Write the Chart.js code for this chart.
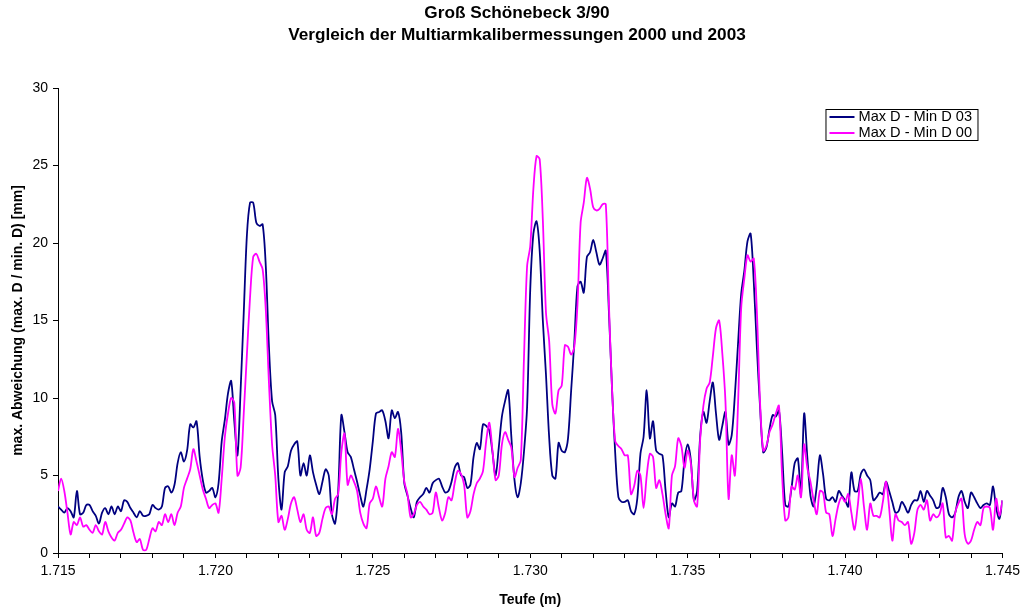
<!DOCTYPE html>
<html>
<head>
<meta charset="utf-8">
<title>Groß Schönebeck 3/90</title>
<script src="https://cdn.jsdelivr.net/npm/chart.js@4.4.0/dist/chart.umd.min.js"></script>
<style>
  html, body { margin: 0; padding: 0; background: #fff; }
  #wrap { width: 1025px; height: 607px; }
</style>
</head>
<body>
<div id="wrap"><canvas id="kaliber_chart" width="1025" height="607"></canvas></div>
<script>
// depth axis (m), one sample every 0.1 mm
const depthStart = 1.715;
const depthStep = 0.0001;
const depthTicks = [1.715, 1.72, 1.725, 1.73, 1.735, 1.74, 1.745];

const titleLines = ["Groß Schönebeck 3/90", "Vergleich der Multiarmkalibermessungen 2000 und 2003"];
const seriesLabels = ["Max D - Min D 03", "Max D - Min D 00"];

// max D - min D, measurement 2003 [mm]
const maxMin03 = [
  3.0, 2.8, 2.6, 2.9, 2.7, 2.3, 4.0, 2.5, 2.6, 3.1,
  3.1, 2.7, 2.4, 1.9, 2.6, 2.9, 2.5, 3.0, 2.5, 3.0,
  2.7, 3.4, 3.3, 2.9, 2.6, 2.3, 2.7, 2.4, 2.4, 2.5,
  3.1, 2.9, 2.8, 3.0, 4.2, 4.3, 3.9, 4.4, 5.8, 6.5,
  5.9, 6.6, 8.3, 8.1, 8.5, 6.2, 4.7, 3.9, 4.0, 4.2,
  3.6, 4.5, 7.2, 8.6, 10.3, 11.1, 8.5, 6.3, 10.5, 15.5,
  20.5, 22.6, 22.6, 21.3, 21.1, 21.2, 18.5, 13.3, 9.8, 8.9,
  4.8, 2.8, 5.2, 5.6, 6.6, 7.0, 7.2, 5.0, 5.8, 5.0,
  6.3, 5.2, 4.4, 3.8, 4.6, 5.4, 5.0, 2.5, 1.9, 4.0,
  8.9, 7.8, 6.5, 6.2, 5.4, 4.6, 3.7, 3.0, 4.1, 5.4,
  7.2, 9.0, 9.1, 9.2, 8.5, 7.4, 9.2, 8.7, 9.1, 7.8,
  4.5, 3.7, 2.9, 2.3, 3.3, 3.6, 3.8, 4.2, 3.9, 4.5,
  4.7, 4.8, 4.3, 3.9, 4.0, 4.6, 5.5, 5.8, 5.0, 4.9,
  4.2, 4.4, 6.2, 7.1, 6.7, 8.3, 8.2, 7.9, 6.5, 5.0,
  6.8, 8.8, 9.8, 10.5, 7.5, 4.7, 3.6, 4.5, 6.5, 9.4,
  17.0, 20.6, 21.4, 19.5, 15.0, 11.5, 7.5, 5.0, 4.8, 7.1,
  6.6, 6.5, 7.4, 10.5, 13.6, 17.2, 17.5, 16.8, 19.1, 19.4,
  20.2, 19.4, 18.6, 19.0, 19.5, 15.5, 10.5, 6.4, 3.6, 3.3,
  3.3, 3.4, 2.7, 2.5, 3.5, 6.4, 7.5, 10.5, 7.4, 8.5,
  6.6, 6.4, 6.3, 4.0, 2.3, 3.2, 3.0, 3.9, 4.0, 6.0,
  7.0, 6.0, 3.4, 4.0, 7.6, 9.1, 8.4, 9.8, 11.0, 9.0,
  7.3, 8.2, 9.1, 7.0, 7.6, 10.2, 13.5, 16.7, 18.2, 20.1,
  20.6, 17.5, 13.2, 9.4, 6.5, 6.8, 8.0, 8.9, 8.8, 9.2,
  6.5, 3.1, 3.0, 4.2, 5.8, 6.1, 3.8, 9.0, 6.2, 3.7,
  3.0, 4.3, 6.3, 5.1, 3.5, 3.4, 3.6, 3.3, 4.0, 3.7,
  3.4, 3.0, 5.2, 4.0, 4.0, 5.1, 5.4, 5.0, 4.7, 3.4,
  3.6, 3.9, 3.8, 4.6, 4.0, 3.3, 2.6, 2.7, 3.3, 3.0,
  2.6, 3.1, 3.4, 3.4, 4.0, 3.3, 4.0, 3.7, 3.4, 2.9,
  3.0, 4.2, 3.6, 2.5, 2.3, 2.6, 3.6, 4.0, 3.3, 2.9,
  3.9, 3.6, 3.2, 2.9, 3.1, 3.2, 3.1, 4.3, 2.9, 2.2,
  3.4
];

// max D - min D, measurement 2000 [mm]
const maxMin00 = [
  4.0, 4.8, 4.0, 2.6, 1.2, 2.0, 1.8, 2.3, 1.7, 1.8,
  1.5, 1.3, 1.8, 1.4, 1.2, 2.0, 1.4, 1.0, 0.8, 1.3,
  1.5, 1.9, 2.3, 2.1, 1.3, 0.7, 0.9, 0.2, 0.2, 0.9,
  1.6, 1.4, 2.0, 1.8, 2.5, 2.0, 2.5, 1.8, 2.6, 3.0,
  4.2, 4.8, 5.4, 6.7, 5.9, 5.0, 4.1, 3.5, 2.9, 3.1,
  3.2, 2.6, 4.8, 7.5, 9.0, 10.0, 9.7, 5.0, 5.5, 9.0,
  12.8, 16.5, 19.1, 19.3, 18.8, 18.3, 15.7, 11.0, 7.0, 5.0,
  2.0, 2.4, 1.5, 2.2, 3.2, 3.6, 2.8, 2.0, 2.5, 1.5,
  1.3, 2.3, 1.1, 1.3, 2.2, 2.9, 3.0, 2.5, 3.5, 3.8,
  6.5, 7.7, 4.4, 5.0, 4.6, 4.0, 2.6, 1.9, 1.6, 3.2,
  3.5, 4.3, 3.6, 3.0, 4.8, 5.6, 6.5, 6.2, 8.0, 6.6,
  4.6, 3.8, 2.3, 2.5, 3.1, 3.3, 3.0, 2.8, 2.5, 2.6,
  3.9, 2.9, 2.1, 2.6, 3.6, 3.4, 4.5, 5.3, 5.1, 4.4,
  2.3, 2.7, 3.8, 4.5, 4.8, 5.3, 7.2, 8.4, 6.6, 4.7,
  5.0, 7.0, 7.8, 7.3, 6.8, 4.9, 5.5, 6.0, 12.5, 18.5,
  19.8, 23.5, 25.6, 25.4, 21.5, 15.5, 13.7, 9.6, 9.0, 10.5,
  10.8, 13.4, 13.3, 12.8, 13.3, 16.0, 21.3, 22.6, 24.2, 23.5,
  22.3, 22.1, 22.2, 22.5, 22.5, 16.0, 10.5, 7.2, 6.9, 6.7,
  6.3, 6.3, 3.8, 4.3, 5.3, 5.0, 2.9, 5.0, 6.4, 6.2,
  4.2, 4.7, 3.8, 2.5, 1.6, 5.0, 5.6, 7.4, 6.9, 5.5,
  6.6, 5.8, 3.4, 3.0, 7.4, 9.5, 10.6, 11.0, 12.7, 14.5,
  15.0, 12.9, 9.8, 3.5, 6.3, 5.0, 9.6, 15.8, 17.7, 19.2,
  18.8, 19.0, 15.5, 9.7, 6.6, 6.9, 7.8, 8.3, 9.0, 9.5,
  5.0, 2.1, 2.3, 4.3, 4.1, 5.0, 3.6, 7.0, 5.5, 4.6,
  3.4, 2.5, 4.0, 3.9, 2.6, 2.5, 1.1, 2.2, 3.2, 3.6,
  3.3, 3.8, 2.6, 1.5, 3.0, 4.8, 3.0, 1.5, 3.2, 2.4,
  2.4, 2.3, 3.3, 4.6, 2.9, 0.8, 2.5, 2.1, 2.0, 1.8,
  2.0, 0.6, 1.3, 2.8, 3.1, 2.8, 3.4, 2.1, 2.5, 2.3,
  2.5, 3.2, 1.0, 1.1, 0.8, 2.6, 3.2, 3.5, 1.2, 0.6,
  0.8, 1.5, 2.0, 1.8, 2.9, 3.0, 2.9, 1.5, 3.5, 2.4,
  3.4
];

const FONT = '"Liberation Sans", Arial, sans-serif';

const toPoints = (values) =>
  values.map((v, i) => ({ x: +(depthStart + i * depthStep).toFixed(4), y: v }));

// two-line heading above the plot
const headingPlugin = {
  id: 'heading',
  afterDraw(chart) {
    const ctx = chart.ctx;
    ctx.save();
    ctx.fillStyle = '#000';
    ctx.font = 'bold 17.2px ' + FONT;
    ctx.textAlign = 'center';
    ctx.textBaseline = 'middle';
    titleLines.forEach((t, i) => ctx.fillText(t, 517, 13 + i * 22));
    ctx.restore();
  }
};

// framed legend in the upper right corner of the plot
const boxLegend = {
  id: 'boxLegend',
  afterDraw(chart) {
    const ctx = chart.ctx;
    const area = chart.chartArea;
    const x = area.right - 177, y = area.top + 21, w = 152, h = 31;
    ctx.save();
    ctx.fillStyle = '#fff';
    ctx.fillRect(x, y, w, h);
    ctx.strokeStyle = '#000';
    ctx.lineWidth = 1;
    ctx.strokeRect(x + 0.5, y + 0.5, w, h);
    ctx.font = '14.6px ' + FONT;
    ctx.textBaseline = 'middle';
    chart.data.datasets.forEach((ds, i) => {
      const ly = y + 8 + i * 16;
      ctx.strokeStyle = ds.borderColor;
      ctx.lineWidth = 2;
      ctx.beginPath();
      ctx.moveTo(x + 4, ly);
      ctx.lineTo(x + 29, ly);
      ctx.stroke();
      ctx.fillStyle = '#000';
      ctx.fillText(ds.label, x + 33, ly);
    });
    ctx.restore();
  }
};

const renderKaliberChart = () => {
  const ctx = document.getElementById('kaliber_chart').getContext('2d');
  new Chart(ctx, {
    type: 'line',
    data: {
      datasets: [
        {
          label: seriesLabels[0],
          data: toPoints(maxMin03),
          borderColor: '#000080',
          borderWidth: 1.8,
          pointRadius: 0,
          tension: 0.3,
          order: 1,
        },
        {
          label: seriesLabels[1],
          data: toPoints(maxMin00),
          borderColor: '#FF00FF',
          borderWidth: 1.8,
          pointRadius: 0,
          tension: 0.3,
          order: 0,
        },
      ],
    },
    options: {
      responsive: false,
      animation: false,
      devicePixelRatio: 1,
      layout: { padding: { top: 88, right: 20, left: 0, bottom: 0 } },
      plugins: {
        legend: { display: false },
        title: { display: false },
        tooltip: { enabled: false },
      },
      scales: {
        x: {
          type: 'linear',
          min: depthTicks[0],
          max: depthTicks[depthTicks.length - 1],
          border: { color: '#000', width: 1 },
          grid: { drawOnChartArea: false, drawTicks: true, tickLength: 5, color: '#000' },
          ticks: {
            stepSize: 0.001,
            autoSkip: false,
            maxRotation: 0,
            padding: 5,
            color: '#000',
            font: { family: FONT, size: 14 },
            callback: (v) => {
              const k = Math.round(v * 1000);
              return depthTicks.some(t => Math.round(t * 1000) === k) ? (k / 1000).toFixed(3) : '';
            },
          },
          title: {
            display: true,
            text: 'Teufe (m)',
            color: '#000',
            font: { family: FONT, size: 14, weight: 'bold', lineHeight: 1 },
            padding: 0,
          },
          afterFit: (s) => { s.height = 54; },
        },
        y: {
          min: 0,
          max: 30,
          border: { color: '#000', width: 1 },
          grid: { drawOnChartArea: false, drawTicks: true, tickLength: 5, color: '#000' },
          ticks: {
            stepSize: 5,
            padding: 5,
            color: '#000',
            font: { family: FONT, size: 14 },
          },
          title: {
            display: true,
            text: 'max. Abweichung (max. D / min. D) [mm]',
            color: '#000',
            font: { family: FONT, size: 14, weight: 'bold', lineHeight: 1 },
            padding: { top: 11, bottom: 0 },
          },
          afterFit: (s) => { s.width = 58; },
        },
      },
    },
    plugins: [headingPlugin, boxLegend],
  });
};

document.onload = renderKaliberChart();
</script>
</body>
</html>
